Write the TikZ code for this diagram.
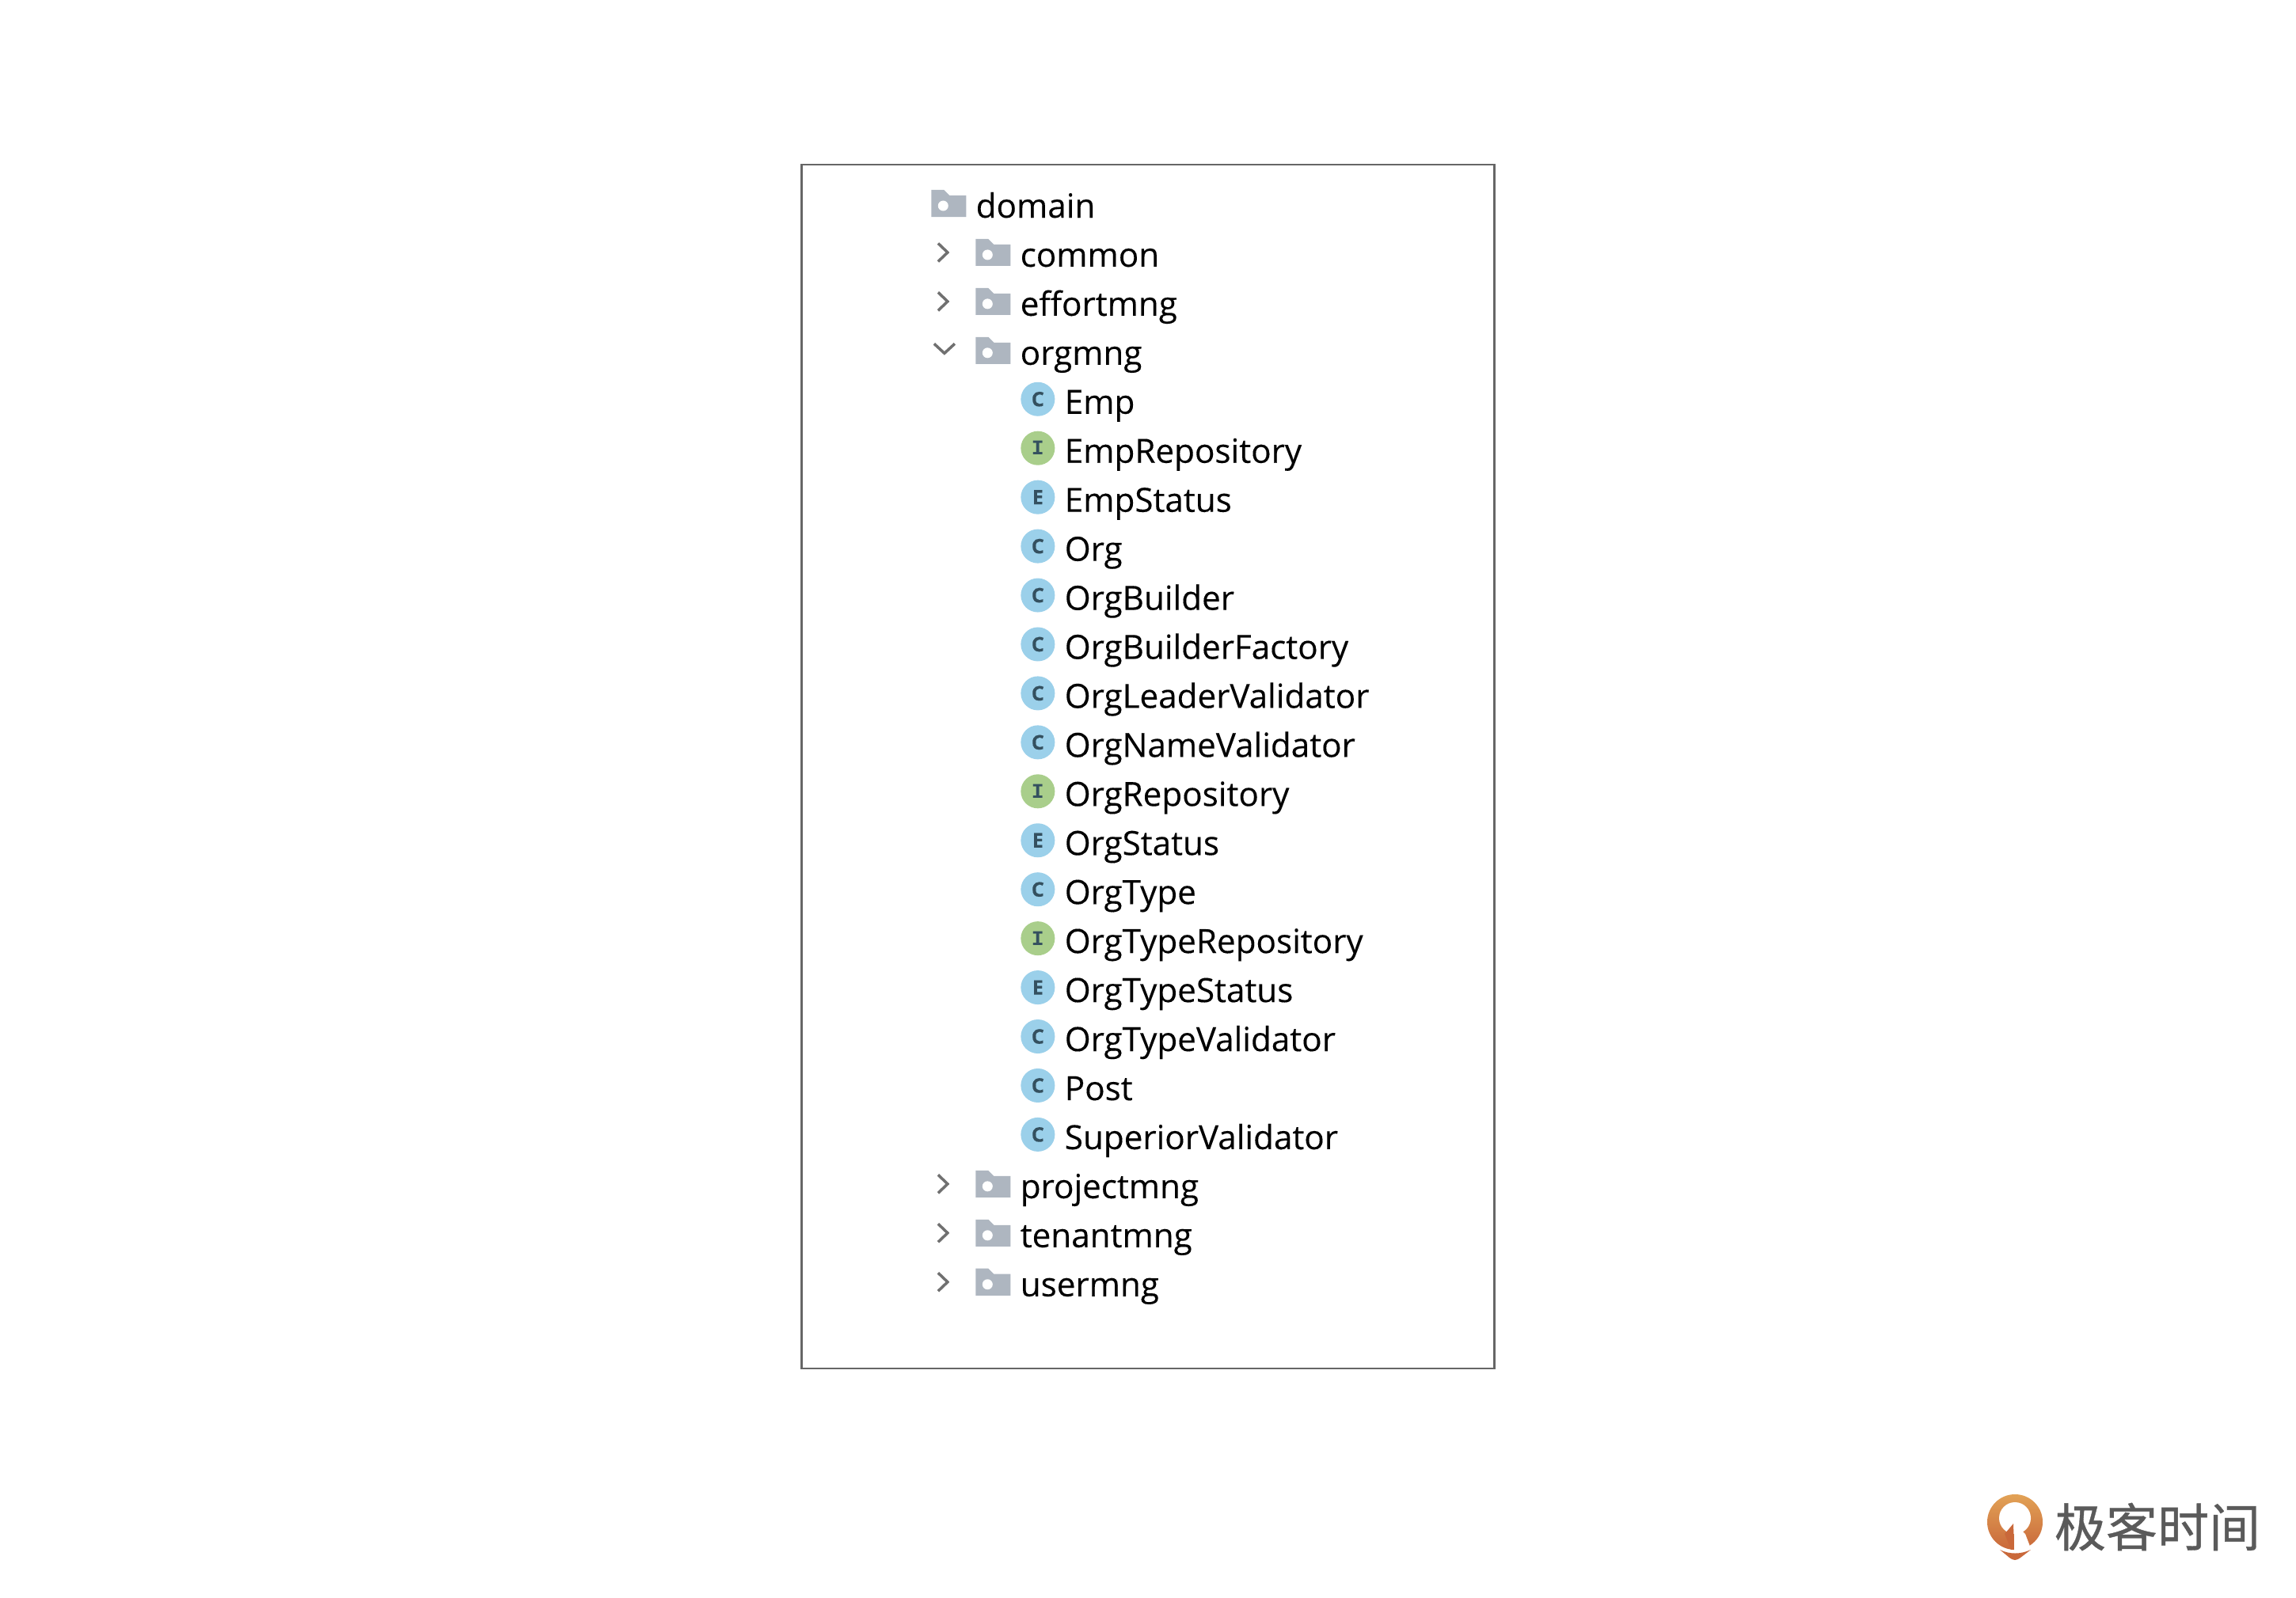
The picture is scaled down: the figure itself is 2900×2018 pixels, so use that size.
\documentclass[tikz,border=0pt]{standalone}
\usepackage{fontspec}
\setmainfont[FakeBold=0.2]{Open Sans}
\setmonofont{Liberation Mono}
\newfontfamily\cjkfont[FakeBold=0.6]{Noto Sans CJK SC}
\usetikzlibrary{positioning}
\definecolor{folderGrey}{HTML}{AEB6C0}
\definecolor{chevGrey}{HTML}{707070}
\definecolor{clsBlue}{HTML}{9BD0EA}
\definecolor{intGreen}{HTML}{A9CE8B}
\definecolor{letterInk}{HTML}{34505F}
\definecolor{frameGrey}{HTML}{666666}
\definecolor{logoInk}{HTML}{5A5A5A}
\definecolor{logoTop}{HTML}{E2A256}
\definecolor{logoLow}{HTML}{C9683A}
\tikzset{panel/.style={rectangle,draw=frameGrey,line width=.8pt,minimum width=8.74cm,minimum height=15.2cm,inner sep=0}}
\tikzset{itemT/.style={anchor=west,inner sep=0,text height=.3cm,text depth=.1cm,font=\fontsize{12}{13}\selectfont,text=black}}
\tikzset{nextRow/.style={below=2.05mm of #1.south west,anchor=north west}}
\tikzset{folderI/.style={rectangle,inner sep=0,minimum width=.44cm,minimum height=.34cm,yshift=.08cm,path picture={
	\fill[folderGrey] (path picture bounding box.south west) |- ([xshift=.16cm]path picture bounding box.north west) -- ([xshift=.23cm,yshift=-.07cm]path picture bounding box.north west) -| (path picture bounding box.south east) -- cycle;
	\fill[white] ([xshift=.15cm,yshift=.14cm]path picture bounding box.south west) circle (.065cm);}}}
\tikzset{iconI/.style={circle,inner sep=0,minimum size=.43cm,yshift=.085cm,text=letterInk,font=\bfseries\fontsize{7.2}{8}\selectfont}}
\tikzset{clsI/.style={iconI,fill=clsBlue}}
\tikzset{intI/.style={iconI,fill=intGreen,font=\ttfamily\bfseries\fontsize{7.5}{8}\selectfont}}
\tikzset{chevR/.style={rectangle,inner sep=0,minimum width=.17cm,minimum height=.27cm,path picture={
	\draw[chevGrey,line width=1pt] ([xshift=.03cm,yshift=-.02cm]path picture bounding box.north west) -- ([xshift=-.02cm]path picture bounding box.east) -- ([xshift=.03cm,yshift=.02cm]path picture bounding box.south west);}}}
\tikzset{chevD/.style={rectangle,inner sep=0,minimum width=.3cm,minimum height=.17cm,yshift=.03cm,path picture={
	\draw[chevGrey,line width=1pt] ([xshift=.02cm,yshift=-.03cm]path picture bounding box.north west) -- ([yshift=.02cm]path picture bounding box.south) -- ([xshift=-.02cm,yshift=-.03cm]path picture bounding box.north east);}}}
\begin{document}
\begin{tikzpicture}[x=.01cm,y=-.01cm]
\useasboundingbox (0,0) rectangle (2900,2018);
\node (panel) [panel] at (1450,968.5) {};
\begin{scope}[node distance=1.1mm]
	\node (domainT) [itemT] at (1232,265) {domain};
	\node (domainF) [folderI,left = of domainT] {};
	\node (commonT) [itemT,nextRow=domainT,xshift=.56cm] {common};
	\node (commonF) [folderI,left = of commonT] {};
	\node (commonC) [chevR,left = 3.2mm of commonF] {};
	\node (effortT) [itemT,nextRow=commonT] {effortmng};
	\node (effortF) [folderI,left = of effortT] {};
	\node (effortC) [chevR,left = 3.2mm of effortF] {};
	\node (orgmngT) [itemT,nextRow=effortT] {orgmng};
	\node (orgmngF) [folderI,left = of orgmngT] {};
	\node (orgmngC) [chevD,left = 2.3mm of orgmngF] {};
	\node (empT) [itemT,nextRow=orgmngT,xshift=.56cm] {Emp};
	\node (empI) [clsI,left = of empT] {C};
	\node (empRepoT) [itemT,nextRow=empT] {EmpRepository};
	\node (empRepoI) [intI,left = of empRepoT] {I};
	\node (empStatT) [itemT,nextRow=empRepoT] {EmpStatus};
	\node (empStatI) [clsI,left = of empStatT] {E};
	\node (orgT) [itemT,nextRow=empStatT] {Org};
	\node (orgI) [clsI,left = of orgT] {C};
	\node (orgBldT) [itemT,nextRow=orgT] {OrgBuilder};
	\node (orgBldI) [clsI,left = of orgBldT] {C};
	\node (orgFacT) [itemT,nextRow=orgBldT] {OrgBuilderFactory};
	\node (orgFacI) [clsI,left = of orgFacT] {C};
	\node (orgLeadT) [itemT,nextRow=orgFacT] {OrgLeaderValidator};
	\node (orgLeadI) [clsI,left = of orgLeadT] {C};
	\node (orgNameT) [itemT,nextRow=orgLeadT] {OrgNameValidator};
	\node (orgNameI) [clsI,left = of orgNameT] {C};
	\node (orgRepoT) [itemT,nextRow=orgNameT] {OrgRepository};
	\node (orgRepoI) [intI,left = of orgRepoT] {I};
	\node (orgStatT) [itemT,nextRow=orgRepoT] {OrgStatus};
	\node (orgStatI) [clsI,left = of orgStatT] {E};
	\node (typeT) [itemT,nextRow=orgStatT] {OrgType};
	\node (typeI) [clsI,left = of typeT] {C};
	\node (typeRepoT) [itemT,nextRow=typeT] {OrgTypeRepository};
	\node (typeRepoI) [intI,left = of typeRepoT] {I};
	\node (typeStatT) [itemT,nextRow=typeRepoT] {OrgTypeStatus};
	\node (typeStatI) [clsI,left = of typeStatT] {E};
	\node (typeValT) [itemT,nextRow=typeStatT] {OrgTypeValidator};
	\node (typeValI) [clsI,left = of typeValT] {C};
	\node (postT) [itemT,nextRow=typeValT] {Post};
	\node (postI) [clsI,left = of postT] {C};
	\node (supT) [itemT,nextRow=postT] {SuperiorValidator};
	\node (supI) [clsI,left = of supT] {C};
	\node (projT) [itemT,nextRow=supT,xshift=-.56cm] {projectmng};
	\node (projF) [folderI,left = of projT] {};
	\node (projC) [chevR,left = 3.2mm of projF] {};
	\node (tenantT) [itemT,nextRow=projT] {tenantmng};
	\node (tenantF) [folderI,left = of tenantT] {};
	\node (tenantC) [chevR,left = 3.2mm of tenantF] {};
	\node (userT) [itemT,nextRow=tenantT] {usermng};
	\node (userF) [folderI,left = of userT] {};
	\node (userC) [chevR,left = 3.2mm of userF] {};
\end{scope}
% logo
\shade[top color=logoTop,bottom color=logoLow] (2545,1923) circle (.35cm);
\fill[white] (2545,1918) circle (.2cm);
\fill[logoLow] (2543,1925) -- (2532,1938) -- (2540,1958) -- (2544,1958) -- cycle;
\fill[white] (2544,1925) -- (2544,1959) -- (2566,1959) -- (2558,1938) -- cycle;
\fill[white] (2522,1956) -- (2545,1959) -- (2570,1956) -- (2570,1962) -- (2522,1962) -- cycle;
\fill[logoLow] (2526,1958) .. controls (2538,1964) and (2552,1964) .. (2565,1958) -- (2552,1968) .. controls (2546,1972) and (2544,1972) .. (2538,1968) -- cycle;
\node (logoText) [inner sep=0,text=logoInk,font=\cjkfont\fontsize{18.5}{20}\selectfont] at (2725,1929) {极客时间};
\end{tikzpicture}
\end{document}
